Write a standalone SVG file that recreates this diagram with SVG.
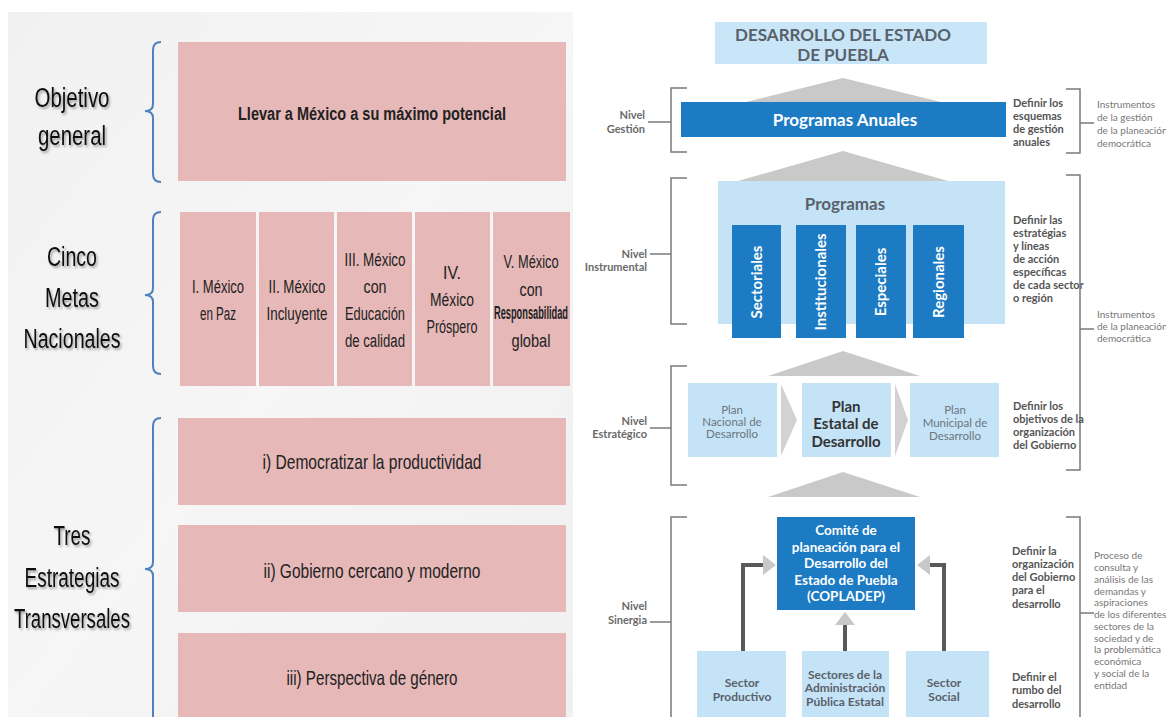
<svg xmlns="http://www.w3.org/2000/svg" width="1166" height="717" viewBox="0 0 1166 717">
<defs>
<filter id="sh" x="-10%" y="-20%" width="130%" height="150%"><feDropShadow dx="1.5" dy="2" stdDeviation="1.2" flood-color="#000" flood-opacity="0.35"/></filter>
<linearGradient id="bg" x1="0" y1="0" x2="1" y2="1"><stop offset="0" stop-color="#f1f1f1"/><stop offset="0.5" stop-color="#f6f6f6"/><stop offset="1" stop-color="#f0f0f0"/></linearGradient>
</defs>
<style>
.lbl{font-family:"Liberation Sans",Arial,sans-serif;font-size:27px;fill:#111;text-anchor:middle;filter:url(#sh)}
.pink{fill:#e6b8b7}
.bt{font-family:"Liberation Sans",Arial,sans-serif;font-size:18px;fill:#222;text-anchor:middle}
.st{font-family:"Liberation Sans",Arial,sans-serif;font-size:21px;fill:#222;text-anchor:middle}
.brace{fill:none;stroke:#4f81bd;stroke-width:2}
.lb{fill:#c5e3f6}
.db{fill:#1d7bc3}
.roof{fill:#c9c9c9}
.chev{fill:#d2d2d2}
.brk{fill:none;stroke:#7a7a7a;stroke-width:1.5}
.nv{font-family:Lato,"Open Sans",sans-serif;font-size:11px;font-weight:bold;fill:#6a6a6a;text-anchor:end}
.df{font-family:Lato,"Open Sans",sans-serif;font-size:11px;font-weight:bold;fill:#555;}
.ins{font-family:Lato,"Open Sans",sans-serif;font-size:10px;fill:#777;}
.pt{font-family:Lato,"Open Sans",sans-serif;font-size:11.5px;fill:#6b7680;text-anchor:middle}
.wt{font-family:Lato,"Open Sans",sans-serif;font-weight:bold;fill:#fff;text-anchor:middle}
.gt{font-family:Lato,"Open Sans",sans-serif;font-weight:bold;fill:#59616b;text-anchor:middle}
.con{fill:none;stroke:#58595b;stroke-width:4}
.ah{fill:#c8c8c8}
</style>

<!-- LEFT PANEL -->
<rect x="8" y="12" width="565" height="705" fill="url(#bg)"/>

<g id="objetivo-general">
<text class="lbl" x="72" y="107" textLength="75" lengthAdjust="spacingAndGlyphs">Objetivo</text>
<text class="lbl" x="72" y="145" textLength="68" lengthAdjust="spacingAndGlyphs">general</text>
<path class="brace" d="M161,42 Q153,42 153,50 L153,104 Q153,111 145,111 Q153,111 153,118 L153,174 Q153,182 161,182"/>
<rect class="pink" x="178" y="42" width="388" height="139"/>
<text class="bt" x="372" y="120" font-weight="bold" font-size="20" textLength="268" lengthAdjust="spacingAndGlyphs">Llevar a México a su máximo potencial</text>
</g>

<g id="cinco-metas">
<text class="lbl" x="72" y="266" textLength="50" lengthAdjust="spacingAndGlyphs">Cinco</text>
<text class="lbl" x="72" y="307" textLength="54" lengthAdjust="spacingAndGlyphs">Metas</text>
<text class="lbl" x="72" y="348" textLength="97" lengthAdjust="spacingAndGlyphs">Nacionales</text>
<path class="brace" d="M161,212 Q153,212 153,220 L153,288 Q153,295 145,295 Q153,295 153,302 L153,366 Q153,374 161,374"/>
</g>

<g id="meta-1">
<rect class="pink" x="180" y="212" width="76" height="174"/>
<text class="bt" x="218" y="293" textLength="52" lengthAdjust="spacingAndGlyphs">I. México</text>
<text class="bt" x="218" y="320" textLength="36" lengthAdjust="spacingAndGlyphs">en Paz</text>
</g>
<g id="meta-2">
<rect class="pink" x="259" y="212" width="75" height="174"/>
<text class="bt" x="297" y="293" textLength="57" lengthAdjust="spacingAndGlyphs">II. México</text>
<text class="bt" x="297" y="320" textLength="61" lengthAdjust="spacingAndGlyphs">Incluyente</text>
</g>
<g id="meta-3">
<rect class="pink" x="337" y="212" width="75" height="174"/>
<text class="bt" x="375" y="266" textLength="61" lengthAdjust="spacingAndGlyphs">III. México</text>
<text class="bt" x="375" y="293" textLength="23" lengthAdjust="spacingAndGlyphs">con</text>
<text class="bt" x="375" y="320" textLength="60" lengthAdjust="spacingAndGlyphs">Educación</text>
<text class="bt" x="375" y="347" textLength="60" lengthAdjust="spacingAndGlyphs">de calidad</text>
</g>
<g id="meta-4">
<rect class="pink" x="415" y="212" width="75" height="174"/>
<text class="bt" x="452" y="279" textLength="18" lengthAdjust="spacingAndGlyphs">IV.</text>
<text class="bt" x="452" y="306" textLength="44" lengthAdjust="spacingAndGlyphs">México</text>
<text class="bt" x="452" y="333" textLength="51" lengthAdjust="spacingAndGlyphs">Próspero</text>
</g>
<g id="meta-5">
<rect class="pink" x="493" y="212" width="77" height="174"/>
<text class="bt" x="531" y="268" textLength="55" lengthAdjust="spacingAndGlyphs">V. México</text>
<text class="bt" x="531" y="296" textLength="23" lengthAdjust="spacingAndGlyphs">con</text>
<text class="bt" x="531" y="319" font-size="11" font-weight="bold" textLength="74" lengthAdjust="spacingAndGlyphs">Responsabilidad</text>
<text class="bt" x="531" y="347" textLength="39" lengthAdjust="spacingAndGlyphs">global</text>
</g>

<g id="tres-estrategias">
<text class="lbl" x="72" y="545" textLength="37" lengthAdjust="spacingAndGlyphs">Tres</text>
<text class="lbl" x="72" y="587" textLength="95" lengthAdjust="spacingAndGlyphs">Estrategias</text>
<text class="lbl" x="72" y="628" textLength="116" lengthAdjust="spacingAndGlyphs">Transversales</text>
<path class="brace" d="M161,418 Q153,418 153,426 L153,562 Q153,569 145,569 Q153,569 153,576 L153,717"/>
</g>
<g id="estrategia-1">
<rect class="pink" x="178" y="418" width="388" height="87"/>
<text class="st" x="372" y="469" textLength="219" lengthAdjust="spacingAndGlyphs">i) Democratizar la productividad</text>
</g>
<g id="estrategia-2">
<rect class="pink" x="178" y="525" width="388" height="87"/>
<text class="st" x="372" y="578" textLength="217" lengthAdjust="spacingAndGlyphs">ii) Gobierno cercano y moderno</text>
</g>
<g id="estrategia-3">
<rect class="pink" x="178" y="633" width="388" height="84"/>
<text class="st" x="372" y="685" textLength="171" lengthAdjust="spacingAndGlyphs">iii) Perspectiva de género</text>
</g>

<!-- RIGHT PANEL -->
<g id="titulo">
<rect x="715" y="22" width="272" height="42" fill="#c8e6f8"/>
<text class="gt" x="843" y="41" font-size="17">DESARROLLO DEL ESTADO</text>
<text class="gt" x="843" y="61" font-size="17">DE PUEBLA</text>
</g>

<g id="roofs">
<polygon class="roof" points="843,78 945,103 742,103"/>
<polygon class="roof" points="843,151 948,181 738,181"/>
<polygon class="roof" points="843,351 920,376 768,376"/>
<polygon class="roof" points="843,472 920,497 768,497"/>
</g>

<g id="nivel-gestion">
<path class="brk" d="M687,88 L671,88 L671,152 L687,152 M648,122 L671,122"/>
<text class="nv" x="645" y="119">Nivel</text>
<text class="nv" x="645" y="133">Gestión</text>
<rect class="db" x="681" y="102" width="325" height="35"/>
<text class="wt" x="845" y="126" font-size="17">Programas Anuales</text>
<text class="df"><tspan x="1013" y="107">Definir los</tspan><tspan x="1013" y="120">esquemas</tspan><tspan x="1013" y="133">de gestión</tspan><tspan x="1013" y="146">anuales</tspan></text>
<path class="brk" d="M1066,89 L1080,89 L1080,153 L1066,153 M1080,123 L1094,123"/>
<text class="ins"><tspan x="1097" y="108">Instrumentos</tspan><tspan x="1097" y="121">de la gestión</tspan><tspan x="1097" y="134">de la planeación</tspan><tspan x="1097" y="147">democrática</tspan></text>
</g>

<g id="nivel-instrumental">
<path class="brk" d="M687,178 L671,178 L671,324 L687,324 M650,254 L671,254"/>
<text class="nv" x="647" y="258">Nivel</text>
<text class="nv" x="647" y="271">Instrumental</text>
<rect class="lb" x="718" y="181" width="287" height="143"/>
<text class="gt" x="845" y="210" font-size="17">Programas</text>
<rect class="db" x="732" y="225" width="49" height="113"/>
<rect class="db" x="796" y="225" width="50" height="113"/>
<rect class="db" x="856" y="225" width="50" height="113"/>
<rect class="db" x="913" y="225" width="51" height="113"/>
<text class="wt" font-size="15" transform="translate(762,282) rotate(-90)">Sectoriales</text>
<text class="wt" font-size="15" transform="translate(826,282) rotate(-90)">Institucionales</text>
<text class="wt" font-size="15" transform="translate(886,282) rotate(-90)">Especiales</text>
<text class="wt" font-size="15" transform="translate(944,282) rotate(-90)">Regionales</text>
<text class="df"><tspan x="1013" y="224">Definir las</tspan><tspan x="1013" y="237">estratégias</tspan><tspan x="1013" y="250">y líneas</tspan><tspan x="1013" y="263">de acción</tspan><tspan x="1013" y="276">específicas</tspan><tspan x="1013" y="289">de cada sector</tspan><tspan x="1013" y="302">o región</tspan></text>
</g>

<g id="instrumentos-planeacion">
<path class="brk" d="M1066,175 L1080,175 L1080,470 L1066,470 M1080,329 L1094,329"/>
<text class="ins"><tspan x="1097" y="318">Instrumentos</tspan><tspan x="1097" y="330">de la planeación</tspan><tspan x="1097" y="342">democrática</tspan></text>
</g>

<g id="nivel-estrategico">
<path class="brk" d="M687,366 L671,366 L671,485 L687,485 M650,428 L671,428"/>
<text class="nv" x="647" y="425">Nivel</text>
<text class="nv" x="647" y="438">Estratégico</text>
<rect class="lb" x="688" y="383" width="89" height="74"/>
<polygon class="chev" points="781,384 797,420 781,456"/>
<rect class="lb" x="802" y="383" width="89" height="74"/>
<polygon class="chev" points="895,384 908,420 895,456"/>
<rect class="lb" x="910" y="383" width="89" height="74"/>
<text class="pt"><tspan x="732" y="414">Plan</tspan><tspan x="732" y="426">Nacional de</tspan><tspan x="732" y="438">Desarrollo</tspan></text>
<text class="gt" font-size="15" style="fill:#333"><tspan x="846" y="412">Plan</tspan><tspan x="846" y="429">Estatal de</tspan><tspan x="846" y="447">Desarrollo</tspan></text>
<text class="pt"><tspan x="955" y="414">Plan</tspan><tspan x="955" y="427">Municipal de</tspan><tspan x="955" y="440">Desarrollo</tspan></text>
<text class="df"><tspan x="1013" y="410">Definir los</tspan><tspan x="1013" y="423">objetivos de la</tspan><tspan x="1013" y="436">organización</tspan><tspan x="1013" y="449">del Gobierno</tspan></text>
</g>

<g id="nivel-sinergia">
<path class="brk" d="M687,517 L671,517 L671,717 M650,622 L671,622"/>
<text class="nv" x="647" y="610">Nivel</text>
<text class="nv" x="647" y="624">Sinergia</text>
<text class="df"><tspan x="1012" y="555">Definir la</tspan><tspan x="1012" y="568">organización</tspan><tspan x="1012" y="581">del Gobierno</tspan><tspan x="1012" y="594">para el</tspan><tspan x="1012" y="608">desarrollo</tspan></text>
<text class="df"><tspan x="1012" y="681">Definir el</tspan><tspan x="1012" y="694">rumbo del</tspan><tspan x="1012" y="708">desarrollo</tspan></text>
<path class="brk" d="M1066,517 L1080,517 L1080,717 M1080,613 L1094,613"/>
<text class="ins"><tspan x="1094" y="559">Proceso de</tspan><tspan x="1094" y="571">consulta y</tspan><tspan x="1094" y="583">análisis de las</tspan><tspan x="1094" y="595">demandas y</tspan><tspan x="1094" y="606">aspiraciones</tspan><tspan x="1094" y="618">de los diferentes</tspan><tspan x="1094" y="630">sectores de la</tspan><tspan x="1094" y="642">sociedad y de</tspan><tspan x="1094" y="653">la problemática</tspan><tspan x="1094" y="665">económica</tspan><tspan x="1094" y="677">y social de la</tspan><tspan x="1094" y="689">entidad</tspan></text>
</g>

<g id="copladep">
<rect class="db" x="777" y="517" width="138" height="93"/>
<text class="wt" font-size="13.5"><tspan x="846" y="535">Comité de</tspan><tspan x="846" y="552">planeación para el</tspan><tspan x="846" y="568">Desarrollo del</tspan><tspan x="846" y="585">Estado de Puebla</tspan><tspan x="846" y="601">(COPLADEP)</tspan></text>
</g>
<g id="sector-productivo">
<rect class="lb" x="697" y="651" width="89" height="66"/>
<text class="gt" font-size="12"><tspan x="742" y="687">Sector</tspan><tspan x="742" y="701">Productivo</tspan></text>
</g>
<g id="sectores-administracion">
<rect class="lb" x="802" y="651" width="87" height="66"/>
<text class="gt" font-size="12"><tspan x="845" y="679">Sectores de la</tspan><tspan x="845" y="692">Administración</tspan><tspan x="845" y="706">Pública Estatal</tspan></text>
</g>
<g id="sector-social">
<rect class="lb" x="906" y="651" width="83" height="66"/>
<text class="gt" font-size="12"><tspan x="944" y="687">Sector</tspan><tspan x="944" y="701">Social</tspan></text>
</g>

<g id="connectors">
<path class="con" d="M743,651 L743,565 L764,565"/>
<polygon class="ah" points="763,555 776,565 763,575"/>
<path class="con" d="M845,651 L845,625"/>
<polygon class="ah" points="835,625 845,612 855,625"/>
<path class="con" d="M944,651 L944,565 L929,565"/>
<polygon class="ah" points="930,555 917,565 930,575"/>
</g>
</svg>
